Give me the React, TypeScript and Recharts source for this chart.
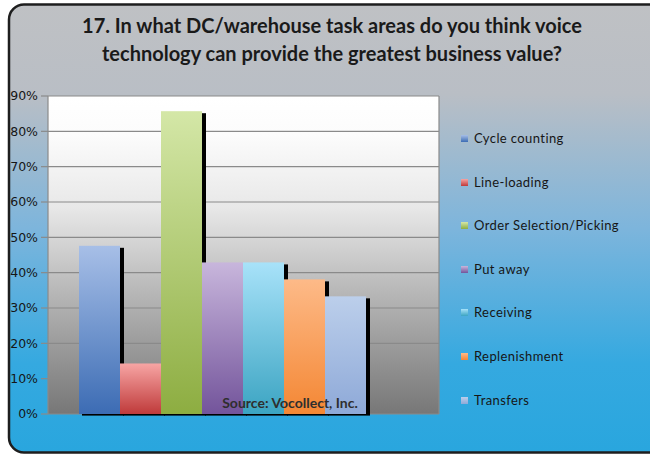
import React from 'react';
import { BarChart, Bar, XAxis, YAxis, CartesianGrid } from 'recharts';

const taskAreas = [
  'Cycle counting',
  'Line-loading',
  'Order Selection/Picking',
  'Put away',
  'Receiving',
  'Replenishment',
  'Transfers',
];
const shareValues = [47.6, 14.3, 85.7, 42.9, 42.9, 38.1, 33.3];
const yTicks = [0, 10, 20, 30, 40, 50, 60, 70, 80, 90];
const titleLines = [
  '17. In what DC/warehouse task areas do you think voice',
  'technology can provide the greatest business value?',
];
const sourceNote = 'Source: Vocollect, Inc.';

// top / bottom colour of each bar's gradient
const barColors: [string, string][] = [
  ['#a7bfe7', '#3c6cb4'],
  ['#f7a5a4', '#bf3a3a'],
  ['#d4e7a7', '#8dad41'],
  ['#c8b6dc', '#73549b'],
  ['#a8e2f9', '#3ba4c2'],
  ['#fdba88', '#f48734'],
  ['#bccfeb', '#8ea9d8'],
];

const row: Record<string, number | string> = { name: 'all' };
taskAreas.forEach((t, i) => {
  row[`s${i}`] = shareValues[i];
});
const data = [row];

const W = 650;
const H = 455;

function ShadowBar(props: any) {
  const { x, y, width, height, idx } = props;
  if (height <= 0) return null;
  return (
    <g>
      <rect x={x + width} y={y + 2} width={4} height={height - 1} fill="#000" />
      <rect x={x + 3} y={y + height} width={width + 1} height={1.6} fill="#000" />
      <rect x={x} y={y} width={width} height={height} fill={`url(#barGrad${idx})`} />
    </g>
  );
}

function LegendBox() {
  return (
    <div style={{ fontFamily: 'Lato, sans-serif', fontSize: 13, color: '#161616' }}>
      {taskAreas.map((t, i) => (
        <div key={t} style={{ height: 43.6, display: 'flex', alignItems: 'flex-start' }}>
          <span
            style={{
              display: 'inline-block',
              width: 7,
              height: 7,
              marginTop: 5,
              marginRight: 6,
              background: `linear-gradient(${barColors[i][0]}, ${barColors[i][1]})`,
            }}
          />
          <span style={{ letterSpacing: 0.4 }}>{t}</span>
        </div>
      ))}
    </div>
  );
}

export default function App() {
  return (
    <div style={{ position: 'relative', width: W, height: H, overflow: 'hidden' }}>
      <style>{`body{margin:0}`}</style>
      <svg width={W} height={H} style={{ position: 'absolute', left: 0, top: 0 }}>
        <defs>
          <linearGradient id="outerBg" x1="0" y1="0" x2="0" y2="1">
            <stop offset="0" stopColor="#bfc1c4" />
            <stop offset="0.2" stopColor="#b9bec5" />
            <stop offset="0.5" stopColor="#7db5dc" />
            <stop offset="0.8" stopColor="#35a9e0" />
            <stop offset="1" stopColor="#29a6de" />
          </linearGradient>
          <linearGradient id="plotBg" x1="0" y1="0" x2="0" y2="1">
            <stop offset="0" stopColor="#ffffff" />
            <stop offset="0.12" stopColor="#fcfcfc" />
            <stop offset="0.35" stopColor="#e8e8e8" />
            <stop offset="0.6" stopColor="#bababa" />
            <stop offset="1" stopColor="#777777" />
          </linearGradient>
          {barColors.map((c, i) => (
            <linearGradient key={i} id={`barGrad${i}`} x1="0" y1="0" x2="0" y2="1">
              <stop offset="0" stopColor={c[0]} />
              <stop offset="1" stopColor={c[1]} />
            </linearGradient>
          ))}
        </defs>
        <rect x={9} y={4.5} width={680} height={448} rx={15} fill="url(#outerBg)" stroke="#1e1e1e" strokeWidth={2.5} />
        {titleLines.map((l, i) => (
          <text
            key={i}
            x={332}
            y={33 + i * 28}
            textAnchor="middle"
            fontFamily="Lato, sans-serif"
            fontWeight="bold"
            fontSize={20}
            fill="#1a1a1a"
          >
            {l}
          </text>
        ))}
      </svg>
      <div style={{ position: 'absolute', left: 0, top: 0 }}>
        <BarChart
          width={W}
          height={H}
          data={data}
          margin={{ top: 96, right: W - 439, left: 8, bottom: H - 414 }}
          barGap={0}
          barCategoryGap={0}
          barSize={41}
        >
          <CartesianGrid
            vertical={true}
            verticalPoints={[439]}
            stroke="#8a8a8a"
            strokeWidth={1.2}
            fill="url(#plotBg)"
            fillOpacity={1}
          />
          <XAxis dataKey="name" hide padding={{ left: 30, right: 73 }} />
          <YAxis
            width={40}
            domain={[0, 90]}
            ticks={yTicks}
            tickFormatter={(v: number) => `${v}%`}
            tickSize={7}
            tickMargin={3}
            axisLine={{ stroke: '#8a8a8a', strokeWidth: 1.2 }}
            tickLine={{ stroke: '#8a8a8a', strokeWidth: 1.2 }}
            tick={{ fontSize: 12.5, fill: '#161616', fontFamily: 'DejaVu Sans, sans-serif' }}
            interval={0}
          />
          {taskAreas.map((t, i) => (
            <Bar
              key={t}
              dataKey={`s${i}`}
              name={t}
              isAnimationActive={false}
              shape={(p: any) => <ShadowBar {...p} idx={i} />}
            />
          ))}
        </BarChart>
      </div>
      <div style={{ position: 'absolute', left: 461, top: 130, width: 185 }}>
        <LegendBox />
      </div>
      <svg width={W} height={H} style={{ position: 'absolute', left: 0, top: 0, pointerEvents: 'none' }}>
        <text
          x={290}
          y={408}
          textAnchor="middle"
          fontFamily="Lato, sans-serif"
          fontWeight="bold"
          fontSize={14}
          fill="#2e2e2e"
        >
          {sourceNote}
        </text>
      </svg>
    </div>
  );
}
